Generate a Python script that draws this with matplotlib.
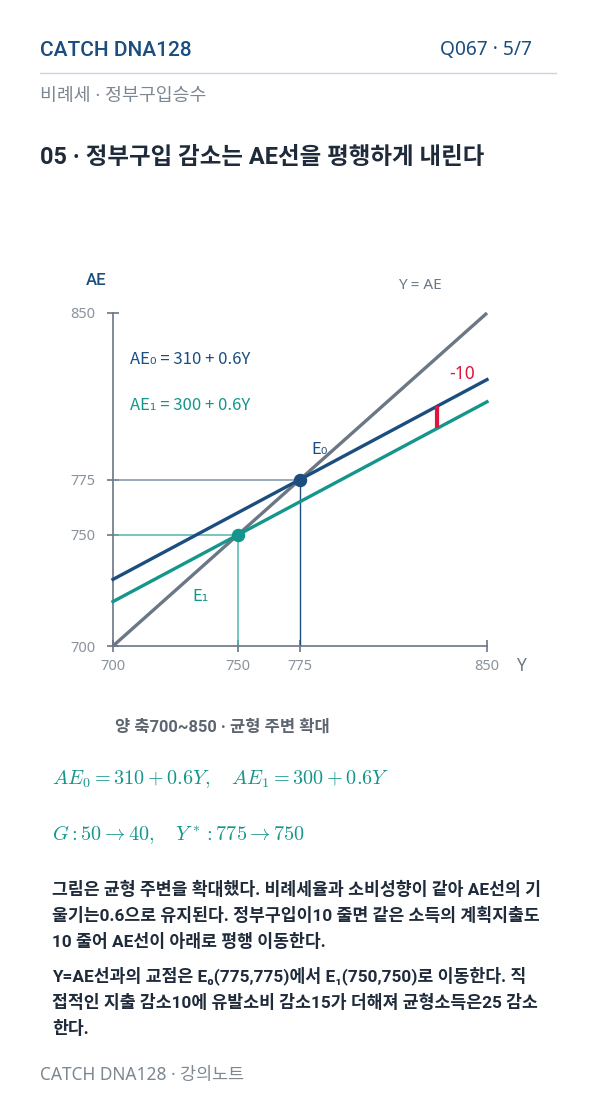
import matplotlib
matplotlib.use("Agg")
import matplotlib.pyplot as plt
import numpy as np

REG = ['Noto Sans', 'Noto Sans CJK KR', 'DejaVu Sans']
BOLD = ['Roboto', 'Noto Sans CJK KR', 'DejaVu Sans']
CJK = ['Noto Sans CJK KR', 'DejaVu Sans']
plt.rcParams['font.family'] = REG
plt.rcParams['mathtext.fontset'] = 'cm'

# ---- data ----
y_range = [700, 850]
ae0_intercept, ae1_intercept, mpc = 310, 300, 0.6
E0 = (775, 775)
E1 = (750, 750)
xticks = [700, 750, 775, 850]
yticks = [700, 750, 775, 850]
shift_x = 830

NAVY = '#1b4d7e'
TEAL = '#14968c'
GRAY = '#6b7785'
RED = '#e0143c'
DARK = '#1f2b3a'
LGRAY = '#7d8791'

W, H = 596, 1106
fig = plt.figure(figsize=(W / 100, H / 100), dpi=100)
fig.patch.set_facecolor('white')

def fx(x):
    return x / W

def fy(y):
    return 1 - y / H

# header
fig.text(fx(40), fy(50), 'CATCH DNA128', fontsize=15, color=NAVY, family=BOLD, fontweight='medium',
         va='center', ha='left')
fig.text(fx(532), fy(50), 'Q067 · 5/7', fontsize=13.8, color=NAVY, fontweight='light', va='center', ha='right')
fig.add_artist(plt.Line2D([fx(40), fx(556)], [fy(73), fy(73)], color='#c9d6e3', lw=1))
fig.text(fx(40), fy(96), '비례세 · 정부구입승수', fontsize=13.2, color=LGRAY, va='center', ha='left')
fig.text(fx(40), fy(158), '05 · 정부구입 감소는 AE선을 평행하게 내린다', fontsize=16.9, color=DARK,
         family=BOLD, fontweight='bold', va='center', ha='left')

# axes
ax = fig.add_axes([fx(113), fy(646), (487 - 113) / W, (646 - 313) / H])
ax.set_xlim(*y_range)
ax.set_ylim(*y_range)
for s in ['top', 'right']:
    ax.spines[s].set_visible(False)
for s in ['left', 'bottom']:
    ax.spines[s].set_color(GRAY)
    ax.spines[s].set_linewidth(1.2)
ax.set_xticks(xticks)
ax.set_yticks(yticks)
ax.tick_params(axis='both', direction='inout', length=9, width=1.2, color=GRAY,
               labelcolor='#8a939c', labelsize=10.5)
ax.tick_params(axis='y', pad=8)
ax.tick_params(axis='x', pad=5)

Y = np.array(y_range, dtype=float)
ax.plot(Y, Y, color=GRAY, lw=2.4, solid_capstyle='butt', clip_on=False, zorder=3)
ax.plot(Y, ae0_intercept + mpc * Y, color=NAVY, lw=2.4, clip_on=False, zorder=4)
ax.plot(Y, ae1_intercept + mpc * Y, color=TEAL, lw=2.4, clip_on=False, zorder=4)

# guides
ax.plot([y_range[0], E0[0]], [E0[1], E0[1]], color='#7f93a8', lw=1.1, zorder=2)
ax.plot([E0[0], E0[0]], [y_range[0], E0[1]], color=NAVY, lw=1.0, zorder=2)
ax.plot([y_range[0], E1[0]], [E1[1], E1[1]], color='#4fb8b0', lw=1.1, zorder=2)
ax.plot([E1[0], E1[0]], [y_range[0], E1[1]], color='#4fb8b0', lw=1.1, zorder=2)

ax.scatter([E0[0]], [E0[1]], s=75, color=NAVY, zorder=6, clip_on=False)
ax.scatter([E1[0]], [E1[1]], s=75, color=TEAL, zorder=6, clip_on=False)

# shift marker
ax.plot([shift_x, shift_x], [ae1_intercept + mpc * shift_x, ae0_intercept + mpc * shift_x],
        color=RED, lw=3, zorder=5, solid_capstyle='butt')
ax.text(shift_x + 10, 822.5, '-10', color=RED, fontsize=12.5, ha='center', va='center')

ax.text(783, 788.5, 'E₀', color=NAVY, fontsize=12, family=CJK, fontweight='medium', ha='center', va='center')
ax.text(735, 722.5, 'E₁', color=TEAL, fontsize=12, family=CJK, fontweight='medium', ha='center', va='center')

fig.text(fx(130), fy(359), 'AE₀ = 310 + 0.6Y', color=NAVY, fontsize=12, family=CJK, fontweight='medium',
         va='center', ha='left')
fig.text(fx(130), fy(405), 'AE₁ = 300 + 0.6Y', color=TEAL, fontsize=12, family=CJK, fontweight='medium',
         va='center', ha='left')
fig.text(fx(420), fy(286), 'Y = AE', color=GRAY, fontsize=11, va='center', ha='center')
fig.text(fx(96), fy(281), 'AE', color=NAVY, fontsize=12, family=BOLD, fontweight='medium', va='center', ha='center')
fig.text(fx(521), fy(666), 'Y', color=GRAY, fontsize=12.5, va='center', ha='center')

fig.text(fx(115), fy(727), '양 축700~850 · 균형 주변 확대', color='#5d6670', fontsize=11.9,
         family=BOLD, fontweight='bold', va='center', ha='left')

fig.text(fx(52), fy(779), r'$AE_0 = 310 + 0.6Y,\quad AE_1 = 300 + 0.6Y$', color=TEAL,
         fontsize=14.6, va='center', ha='left')
fig.text(fx(52), fy(835), r'$G: 50 \rightarrow 40,\quad Y^*: 775 \rightarrow 750$', color=TEAL,
         fontsize=14.6, va='center', ha='left')

para1 = ['그림은 균형 주변을 확대했다. 비례세율과 소비성향이 같아 AE선의 기',
         '울기는0.6으로 유지된다. 정부구입이10 줄면 같은 소득의 계획지출도',
         '10 줄어 AE선이 아래로 평행 이동한다.']
para2 = ['Y=AE선과의 교점은 E₀(775,775)에서 E₁(750,750)로 이동한다. 직',
         '접적인 지출 감소10에 유발소비 감소15가 더해져 균형소득은25 감소',
         '한다.']
for i, line in enumerate(para1):
    fig.text(fx(52), fy(889 + 26 * i), line, color=DARK, fontsize=12.4, family=BOLD, fontweight='bold',
             va='center', ha='left')
for i, line in enumerate(para2):
    fig.text(fx(52), fy(976 + 26 * i), line, color=DARK, fontsize=12.4, family=BOLD, fontweight='bold',
             va='center', ha='left')

fig.text(fx(40), fy(1075), 'CATCH DNA128 · 강의노트', color=LGRAY, fontsize=12.5,
         va='center', ha='left')

fig.savefig('out.png', dpi=100, facecolor='white')
